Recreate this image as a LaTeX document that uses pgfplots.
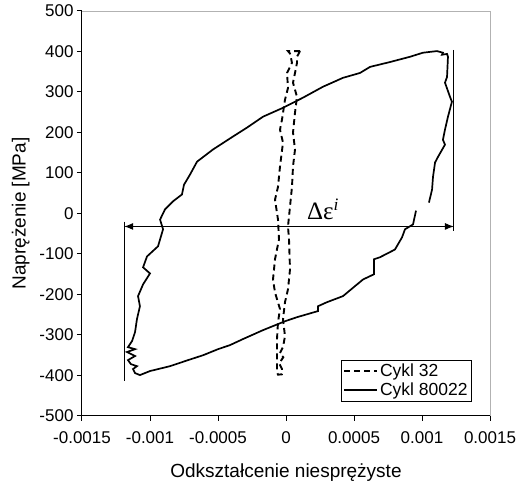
\documentclass[border=0pt]{standalone}
\usepackage{fontspec}
\setmainfont{Liberation Sans}
\newfontfamily\seriffont{Liberation Serif}
\usepackage{pgfplots}
\pgfplotsset{compat=1.18}
\usetikzlibrary{arrows.meta}

\begin{document}
\begin{tikzpicture}
\begin{axis}[
  scale only axis, width=408pt, height=405pt,
  xmin=-0.0015, xmax=0.0015, ymin=-500, ymax=500,
  axis x line*=bottom, axis y line*=left,
  xtick={-0.0015,-0.001,-0.0005,0,0.0005,0.001,0.0015},
  xticklabels={-0.0015,-0.001,-0.0005,0,0.0005,0.001,0.0015},
  scaled x ticks=false,
  ytick={-500,-400,-300,-200,-100,0,100,200,300,400,500},
  yticklabels={-500,-400,-300,-200,-100,0,100,200,300,400,500},
  tick align=outside, major tick length=5pt,
  tick style={black, line width=1pt},
  axis line style={black, line width=1pt},
  ticklabel style={font=\fontsize{17}{20}\selectfont},
  xticklabel style={yshift=-7pt},
  xlabel={Odkształcenie niesprężyste}, ylabel={Naprężenie [MPa]},
  label style={font=\fontsize{19}{22}\selectfont},
  xlabel style={yshift=-13pt},
  ylabel style={yshift=3pt},
  legend style={at={(0.956,0.035)}, anchor=south east, draw=black, line width=0.9pt,
    font=\fontsize{17.5}{20}\selectfont, inner xsep=2pt, inner ysep=2pt, row sep=1pt},
  legend cell align=left,
  legend image code/.code={\draw[#1] (0pt,0pt) -- (33pt,0pt);},
  clip=false,
]
\draw[gray!60, line width=0.8pt] (rel axis cs:0,1) -- (rel axis cs:1,1) -- (rel axis cs:1,0);

\addplot[black, line width=1.9pt, dash pattern=on 6pt off 4pt] coordinates {
(0.000103,401) (0.0000147,401) (0.0000294,395) (0.0000441,372) (0.0000074,347)
(0.0000147,310) (-0.0000074,281) (-0.0000294,232) (-0.0000441,207) (-0.0000221,175)
(-0.0000441,116) (-0.0000588,66) (-0.0000809,34) (-0.0000588,-15) (-0.0000515,-64)
(-0.0000809,-113) (-0.0000956,-163) (-0.0000809,-195) (-0.0000441,-236) (-0.0000588,-268)
(-0.0000662,-310) (-0.0000662,-360) (-0.0000662,-392) (-0.0000588,-398) (-0.0000294,-397)
(-0.0000294,-384) (-0.00005,-370) (-0.00002,-355) (-0.000045,-345) (-0.0000221,-330)
(-0.0000074,-303) (-0.0000221,-261) (-0.0000074,-219) (0.0000147,-187) (0.0000294,-138)
(0.0000221,-64) (0.0000147,-32) (0.0000294,17) (0.0000441,66) (0.0000515,116)
(0.0000662,158) (0.0000515,200) (0.0000662,249) (0.0000809,288) (0.0000515,323)
(0.0000662,347) (0.0000809,372) (0.0000809,387) (0.000103,401)
};
\addlegendentry{Cykl 32}

\addplot[black, line width=1.7pt] coordinates {
(0.000956,7) (0.000934,-27) (0.000875,-39) (0.000853,-59) (0.000801,-89)
(0.000691,-108) (0.000647,-113) (0.000647,-150) (0.000566,-163) (0.000419,-204)
(0.000301,-219) (0.000235,-229) (0.000235,-241) (0.000081,-256) (-0.000007,-266)
(-0.000169,-288) (-0.000316,-310) (-0.000412,-325) (-0.0005,-335) (-0.00061,-350)
(-0.00072,-362) (-0.000853,-377) (-0.001,-389) (-0.001074,-399) (-0.00111,-394)
(-0.001125,-384) (-0.001096,-377) (-0.00114,-372) (-0.001162,-362) (-0.00111,-352)
(-0.001169,-342) (-0.00111,-335) (-0.001162,-330) (-0.001132,-315) (-0.00111,-293)
(-0.001096,-261) (-0.001074,-229) (-0.001088,-204) (-0.001051,-175) (-0.001,-148)
(-0.001051,-133) (-0.001022,-106) (-0.000941,-81) (-0.000904,-39) (-0.000926,-15)
(-0.00089,10) (-0.000831,30) (-0.000765,47) (-0.00075,71) (-0.000706,96)
(-0.000654,128) (-0.000537,158) (-0.00039,190) (-0.000287,212) (-0.000169,239)
(-0.000022,261) (0.000125,286) (0.000272,313) (0.000419,335) (0.000544,347)
(0.000618,362) (0.000765,374) (0.000912,387) (0.001007,397) (0.00111,401)
(0.001154,397) (0.001147,392) (0.001184,394) (0.001191,387) (0.001184,337)
(0.001169,323) (0.001206,288) (0.00122,276) (0.001191,239) (0.001169,207)
(0.001154,182) (0.001169,170) (0.001118,140) (0.001096,126) (0.001081,91)
(0.001074,59) (0.001051,27)
};
\addlegendentry{Cykl 80022}

\addplot[black, line width=1pt, forget plot] coordinates {(-0.00119,-20) (-0.00119,-414)};
\addplot[black, line width=1pt, forget plot] coordinates {(0.001235,404) (0.001235,-44)};
\addplot[black, line width=1pt, forget plot, {Latex[length=9pt,width=7pt]}-{Latex[length=9pt,width=7pt]}] coordinates {(-0.00119,-32) (0.001235,-32)};

\node[anchor=base west, inner sep=0pt, font=\seriffont\fontsize{25}{29}\selectfont] at (axis cs:0.000154,-15) {Δε\textsuperscript{\itshape i}};
\end{axis}
\pgfresetboundingbox
\path[use as bounding box] (-82pt,-70pt) rectangle (434pt,416pt);
\end{tikzpicture}
\end{document}
